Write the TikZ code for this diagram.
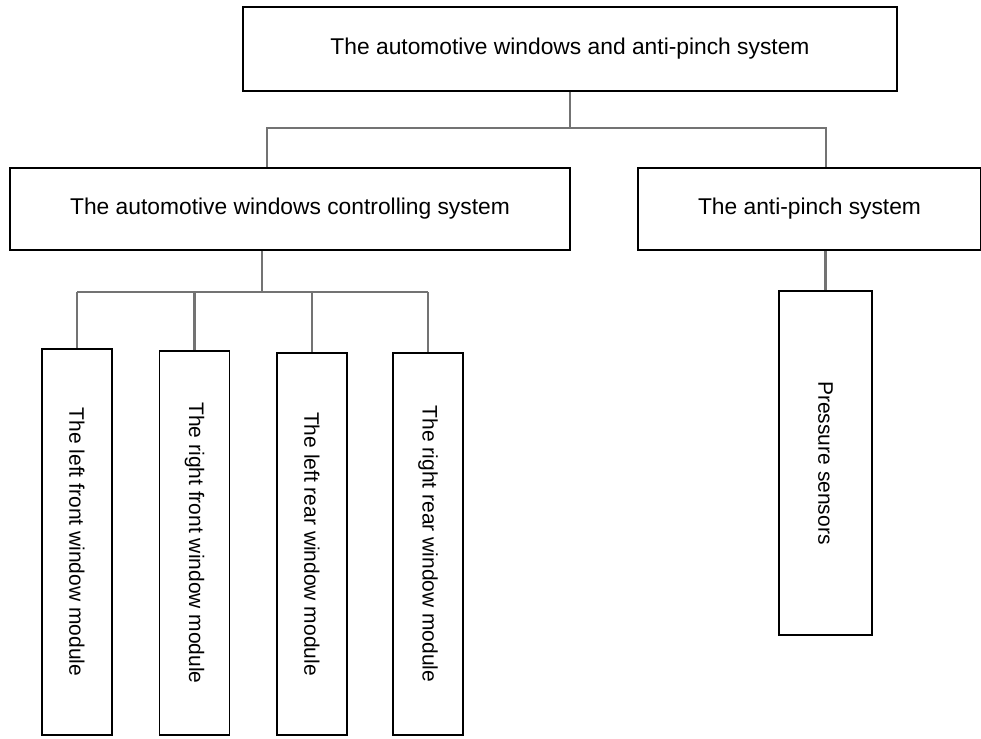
\documentclass[tikz,border=0pt]{standalone}
\usepackage{fontspec}
\setmainfont{Liberation Sans}

\tikzset{
	box/.style={draw, line width=1.3pt, inner sep=0pt, align=center},
	txt/.style={font=\fontsize{21}{25}\selectfont},
	wide/.style={font=\fontsize{22.8}{27}\selectfont},
	link/.style={draw=black!55, line width=2.6pt},
}

\begin{document}
\begin{tikzpicture}[x=1pt, y=-1pt]
	\useasboundingbox (0,0) rectangle (981,738);

	% top level
	\node[box, wide, minimum width=654pt, minimum height=84pt] (sys) at (570,49) {The automotive windows and anti-pinch system};

	% second level
	\node[box, wide, minimum width=560pt, minimum height=82pt] (ctrl) at (290,209) {The automotive windows controlling system};
	\node[box, wide, minimum width=343pt, minimum height=82pt] (anti) at (809.5,209) {The anti-pinch system};

	% window modules
	\foreach \i/\x/\y/\h/\name in {1/77/542/386/The left front window module, 2/194.5/543/384/The right front window module, 3/312/544/382/The left rear window module, 4/428/544/382/The right rear window module} {
		\node[box, minimum width=70pt, minimum height=\h pt] (mod\i) at (\x,\y) {};
		\node[txt, rotate=-90] (lab\i) at (mod\i.center) {\name};
	}

	% sensors
	\node[box, minimum width=93pt, minimum height=344pt] (sens) at (825.5,463) {};
	\node[txt, rotate=-90] (labs) at (sens.center) {Pressure sensors};

	% connectors
	\coordinate (j1) at (570,128);
	\coordinate (j2) at (262,292);
	\draw[link] (sys.south) -- (j1);
	\draw[link] ([xshift=-23pt]ctrl.north) |- (j1) -| ([xshift=16.5pt]anti.north);
	\draw[link] ([xshift=-28pt]ctrl.south) -- (j2);
	\draw[link] (mod1.north |- j2) -- (mod4.north |- j2);
	\foreach \i in {1,...,4} {
		\draw[link] (mod\i.north |- j2) -- (mod\i.north);
	}
	\draw[link] (anti.south -| sens.north) -- (sens.north);
\end{tikzpicture}
\end{document}
